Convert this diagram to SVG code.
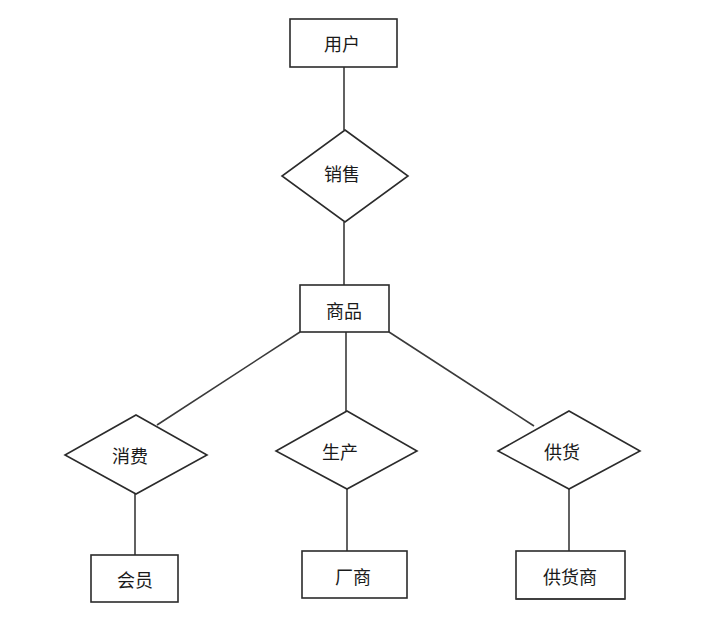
<svg xmlns="http://www.w3.org/2000/svg" width="709" height="623" viewBox="0 0 709 623">
  <style>
    .shape { fill: #ffffff; stroke: #2b2b2b; stroke-width: 1.6; }
    .link { stroke: #3a3a3a; stroke-width: 1.6; fill: none; }
    .label { font-family: "Noto Sans CJK SC", "Liberation Serif", serif; font-size: 18px; fill: #1a1a1a; text-anchor: middle; dominant-baseline: central; }
  </style>
  <rect width="709" height="623" fill="#ffffff"/>

  <!-- connectors -->
  <g id="connectors">
    <line class="link" x1="344" y1="67" x2="344" y2="130"/>
    <line class="link" x1="344" y1="222" x2="344" y2="285"/>
    <line class="link" x1="300" y1="332" x2="157" y2="425"/>
    <line class="link" x1="346" y1="332" x2="346" y2="411"/>
    <line class="link" x1="389" y1="332" x2="534" y2="426"/>
    <line class="link" x1="135" y1="494" x2="135" y2="555"/>
    <line class="link" x1="347" y1="489" x2="347" y2="551"/>
    <line class="link" x1="569" y1="489" x2="569" y2="551"/>
  </g>

  <!-- entities and relationships -->
  <g id="user">
    <rect class="shape" x="290" y="19" width="107" height="48"/>
    <text class="label" x="342" y="43">用户</text>
  </g>
  <g id="sales">
    <polygon class="shape" points="345,130 408,176 345,222 282,176"/>
    <text class="label" x="342" y="173">销售</text>
  </g>
  <g id="product">
    <rect class="shape" x="300" y="285" width="89" height="47"/>
    <text class="label" x="344" y="310">商品</text>
  </g>
  <g id="consume">
    <polygon class="shape" points="136,415 207,455 136,494 65,455"/>
    <text class="label" x="130" y="455">消费</text>
  </g>
  <g id="produce">
    <polygon class="shape" points="347,411 417,451 347,489 276,451"/>
    <text class="label" x="340" y="451">生产</text>
  </g>
  <g id="supply">
    <polygon class="shape" points="569,411 640,451 569,489 498,451"/>
    <text class="label" x="562" y="451">供货</text>
  </g>
  <g id="member">
    <rect class="shape" x="91" y="555" width="87" height="47"/>
    <text class="label" x="135" y="579">会员</text>
  </g>
  <g id="manufacturer">
    <rect class="shape" x="302" y="551" width="105" height="47"/>
    <text class="label" x="353" y="576">厂商</text>
  </g>
  <g id="supplier">
    <rect class="shape" x="516" y="551" width="109" height="48"/>
    <line class="link" x1="516" y1="599" x2="625" y2="599" stroke-width="2.4"/>
    <text class="label" x="570" y="576">供货商</text>
  </g>
</svg>
